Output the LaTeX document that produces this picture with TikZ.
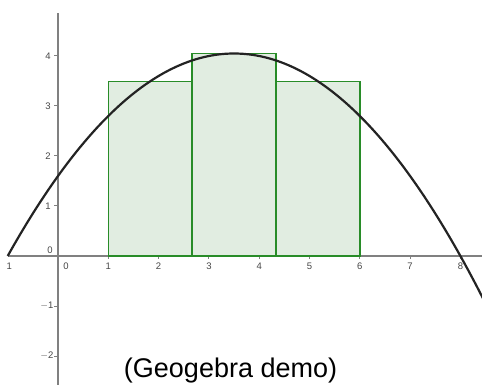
\documentclass[tikz,border=0pt]{standalone}
\usepackage{fontspec}
\setmainfont{Liberation Sans}
\definecolor{axisgray}{RGB}{128,128,128}
\definecolor{labgray}{RGB}{70,70,70}
\definecolor{rectgreen}{RGB}{40,140,40}
\definecolor{rectfill}{RGB}{225,237,225}
\definecolor{curvecol}{RGB}{35,35,35}
\begin{document}
\begin{tikzpicture}[x=50.3bp,y=50bp,
  axisline/.style={draw=axisgray,line width=1.5bp},
  tickmark/.style={draw=axisgray,line width=1bp},
  ticklab/.style={text=labgray,font=\fontsize{9.5bp}{10bp}\selectfont,inner sep=0pt},
  riemann/.style={draw=rectgreen,fill=rectfill,line width=1.4bp},
  curve/.style={draw=curvecol,line width=2.2bp},
  caption/.style={font=\fontsize{27bp}{30bp}\selectfont,text=black,inner sep=0pt}]
\useasboundingbox (-1.1531,-2.58) rectangle (8.4294,5.12);
\begin{scope}
\clip (-1.1531,-2.58) rectangle (8.4294,5.12);
% axes
\draw[axisline] (-0.99,0) -- (8.43,0);
\draw[axisline] (0,-2.6) -- (0,4.86);
% ticks
\foreach \i in {1,...,8} \draw[tickmark] (\i,0) -- (\i,-0.06);
\foreach \j in {-2,-1,1,2,3,4} \draw[tickmark] (0,\j) -- (-0.07,\j);
% x labels
\node[ticklab] (xm1) at (-0.97,-0.2) {1};
\node[ticklab] (x0) at (0.16,-0.2) {0};
\foreach \i in {1,...,8} \node[ticklab] (x\i) at (\i,-0.2) {\i};
% y labels
\node[ticklab] (y0) at (-0.16,0.12) {0};
\foreach \j in {1,2,3,4} \node[ticklab] (y\j) at (-0.2,\j) {\j};
\node[ticklab] (ym1) at (-0.22,-1) {$-$1};
\node[ticklab] (ym2) at (-0.22,-2) {$-$2};
% rectangles (midpoint rule)
\draw[riemann] (1,0) rectangle (2.6667,3.4944);
\draw[riemann] (2.6667,0) rectangle (4.3333,4.05);
\draw[riemann] (4.3333,0) rectangle (6,3.4944);
% parabola
\draw[curve,domain=-1:8.5,samples=120,smooth] plot (\x,{-0.2*(\x+1)*(\x-8)});
\end{scope}
\node[caption] (cap) at (3.43,-2.3) {(Geogebra demo)};
\end{tikzpicture}
\end{document}
